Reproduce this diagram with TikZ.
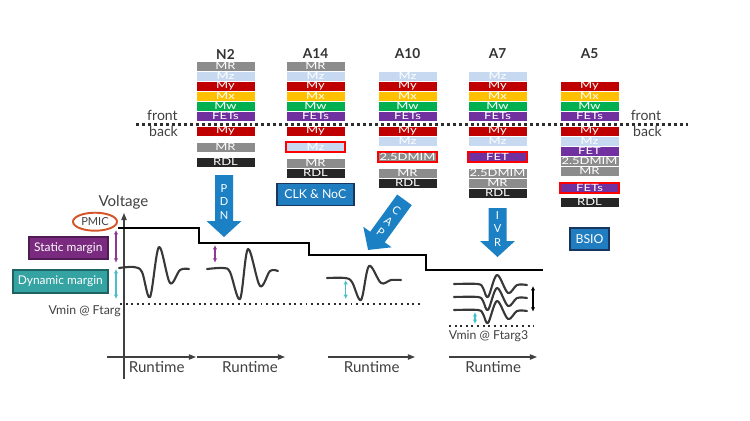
\documentclass[tikz,border=0pt]{standalone}
\usepackage{fontspec}
\setmainfont{Lato}
\newfontfamily\layerfamily[FakeStretch=1.3]{Lato}
\usetikzlibrary{positioning,shapes.geometric,arrows.meta}

\definecolor{mrgray}{HTML}{8C8C8C}
\definecolor{mzblue}{HTML}{C6D9F0}
\definecolor{myred}{HTML}{C00000}
\definecolor{mxorange}{HTML}{FFC000}
\definecolor{mwgreen}{HTML}{00B050}
\definecolor{fetpurple}{HTML}{7030A0}
\definecolor{rdlblack}{HTML}{262626}
\definecolor{arrowblue}{HTML}{1B81C4}
\definecolor{badgeblue}{HTML}{1F7DC0}
\definecolor{badgeborder}{HTML}{17375E}
\definecolor{txtgray}{HTML}{404040}
\definecolor{wavegray}{HTML}{383838}
\definecolor{pmicorange}{HTML}{D4552A}
\definecolor{staticfill}{HTML}{7A2A7F}
\definecolor{staticline}{HTML}{4E1B52}
\definecolor{dynfill}{HTML}{36A3A3}
\definecolor{dynline}{HTML}{1F6262}
\definecolor{staticarrow}{HTML}{8E3A94}
\definecolor{dynarrow}{HTML}{47C1C8}

\tikzset{
  layer/.style={minimum width=1.18cm, minimum height=0.2cm, inner sep=0pt, outer sep=0pt,
    text=white, font=\layerfamily\fontsize{5.7}{6}\selectfont, draw=white, line width=0.2pt},
  mr/.style={layer, fill=mrgray},
  mz/.style={layer, fill=mzblue},
  my/.style={layer, fill=myred},
  mx/.style={layer, fill=mxorange},
  mw/.style={layer, fill=mwgreen},
  fet/.style={layer, fill=fetpurple},
  rdl/.style={layer, fill=rdlblack},
  hot/.style={draw=red, line width=1.1pt},
  chipname/.style={text=txtgray!80!black, font=\bfseries\fontsize{7.8}{9}\selectfont},
  sidetext/.style={text=txtgray, font=\fontsize{8}{9}\selectfont, inner sep=0pt},
  badge/.style={fill=badgeblue, draw=badgeborder, line width=1.1pt, text=white,
    minimum height=0.44cm, inner sep=0pt, font=\fontsize{7}{8}\selectfont},
  arrowtext/.style={text=white, align=center, inner sep=0pt, font=\fontsize{6.3}{7.7}\selectfont},
  blockarrow/.pic={
    \fill[arrowblue] (-9,0) -- (9,0) -- (9,#1-16) -- (17.5,#1-16) -- (0,#1)
      -- (-17.5,#1-16) -- (-9,#1-16) -- cycle;
  },
  divider/.style={draw=txtgray!70!black, line width=1.7pt, dash pattern=on 1.7pt off 1.7pt},
  floor/.style={draw=txtgray!70!black, line width=1.1pt, dash pattern=on 1.1pt off 2.1pt},
  axis/.style={draw=txtgray, line width=0.7pt, -{Triangle[length=4pt,width=3pt]}},
  runtext/.style={text=txtgray, font=\fontsize{8.6}{10}\selectfont, inner sep=0pt},
  marginbox/.style={text=white, line width=1.1pt, minimum height=0.45cm, inner sep=0pt,
    font=\fontsize{6.8}{8}\selectfont},
  supply/.style={draw=black, line width=1.3pt},
  wave/.style={draw=wavegray, line width=1.2pt, line cap=round, line join=round},
  span/.style={line width=0.8pt, {Latex[length=2.5pt,width=2.5pt]}-{Latex[length=2.5pt,width=2.5pt]}},
  vmin/.style={text=txtgray, font=\fontsize{7}{8}\selectfont, inner sep=0pt}
}

\begin{document}
\begin{tikzpicture}[x=0.02cm,y=-0.02cm]
  \useasboundingbox (0,0) rectangle (750,420);

  % chip names
  \node[chipname] (n2) at (225.5,54) {N2};
  \node[chipname] (a14) at (315.5,54) {A14};
  \node[chipname] (a10) at (407.5,54) {A10};
  \node[chipname] (a7) at (497.5,54) {A7};
  \node[chipname] (a5) at (589.5,54) {A5};

  % N2
  \node[mr] (n2mr) at (225.5,66) {MR};
  \node[mz] (n2mz) [below=0pt of n2mr] {Mz};
  \node[my] (n2my) [below=0pt of n2mz] {My};
  \node[mx] (n2mx) [below=0pt of n2my] {Mx};
  \node[mw] (n2mw) [below=0pt of n2mx] {Mw};
  \node[fet] (n2fets) [below=0pt of n2mw] {FETs};
  \node[my] (n2bmy) at (225.5,131) {My};
  \node[mr] (n2bmr) [below=1.2mm of n2bmy] {MR};
  \node[rdl] (n2rdl) [below=1mm of n2bmr] {RDL};

  % A14
  \node[mr] (a14mr) at (315.5,66) {MR};
  \node[mz] (a14mz) [below=0pt of a14mr] {Mz};
  \node[my] (a14my) [below=0pt of a14mz] {My};
  \node[mx] (a14mx) [below=0pt of a14my] {Mx};
  \node[mw] (a14mw) [below=0pt of a14mx] {Mw};
  \node[fet] (a14fets) [below=0pt of a14mw] {FETs};
  \node[my] (a14bmy) at (315.5,131) {My};
  \node[mz,hot] (a14bmz) [below=1.2mm of a14bmy] {Mz};
  \node[mr] (a14bmr) [below=1.2mm of a14bmz] {MR};
  \node[rdl] (a14rdl) [below=0pt of a14bmr] {RDL};

  % A10
  \node[mz] (a10mz) at (407.5,76) {Mz};
  \node[my] (a10my) [below=0pt of a10mz] {My};
  \node[mx] (a10mx) [below=0pt of a10my] {Mx};
  \node[mw] (a10mw) [below=0pt of a10mx] {Mw};
  \node[fet] (a10fets) [below=0pt of a10mw] {FETs};
  \node[my] (a10bmy) at (407.5,131) {My};
  \node[mz] (a10bmz) [below=0pt of a10bmy] {Mz};
  \node[mr,hot] (a10mim) [below=1.2mm of a10bmz] {2.5DMIM};
  \node[mr] (a10bmr) [below=1.2mm of a10mim] {MR};
  \node[rdl] (a10rdl) [below=0pt of a10bmr] {RDL};

  % A7
  \node[mz] (a7mz) at (497.5,76) {Mz};
  \node[my] (a7my) [below=0pt of a7mz] {My};
  \node[mx] (a7mx) [below=0pt of a7my] {Mx};
  \node[mw] (a7mw) [below=0pt of a7mx] {Mw};
  \node[fet] (a7fets) [below=0pt of a7mw] {FETs};
  \node[my] (a7bmy) at (497.5,131) {My};
  \node[mz] (a7bmz) [below=0pt of a7bmy] {Mz};
  \node[fet,hot] (a7bfet) [below=1.2mm of a7bmz] {FET};
  \node[mr] (a7mim) [below=1.2mm of a7bfet] {2.5DMIM};
  \node[mr] (a7bmr) [below=0pt of a7mim] {MR};
  \node[rdl] (a7rdl) [below=0pt of a7bmr] {RDL};

  % A5
  \node[my] (a5my) at (589.5,86) {My};
  \node[mx] (a5mx) [below=0pt of a5my] {Mx};
  \node[mw] (a5mw) [below=0pt of a5mx] {Mw};
  \node[fet] (a5fets) [below=0pt of a5mw] {FETs};
  \node[my] (a5bmy) at (589.5,131) {My};
  \node[mz] (a5bmz) [below=0pt of a5bmy] {Mz};
  \node[fet] (a5bfet) [below=0pt of a5bmz] {FET};
  \node[mr] (a5mim) [below=0pt of a5bfet] {2.5DMIM};
  \node[mr] (a5bmr) [below=0pt of a5mim] {MR};
  \node[fet,hot] (a5bfets) [below=1.4mm of a5bmr] {FETs};
  \node[rdl] (a5rdl) [below=0.8mm of a5bfets] {RDL};

  % front / back
  \draw[divider] (136,124.5) -- (688,124.5);
  \node[sidetext] (frontl) at (162.5,115) {front};
  \node[sidetext] (backl) at (163.5,131.5) {back};
  \node[sidetext] (frontr) at (646,115) {front};
  \node[sidetext] (backr) at (647.5,131.5) {back};

  % boxes and block arrows
  \node[badge, minimum width=1.54cm] (clk) at (315.3,194.5) {CLK \& NoC};
  \node[badge, minimum width=0.78cm] (bsio) at (589.5,239) {BSIO};
  \pic at (224,175) {blockarrow=62};
  \node[arrowtext] (pdn) at (224,202) {P\\D\\N};
  \pic[rotate=-36] at (404.5,199.8) {blockarrow=62};
  \node[arrowtext, rotate=-36] (cap) at (388.6,221.6) {C\\A\\P};
  \pic at (497.5,208) {blockarrow=49};
  \node[arrowtext] (ivr) at (497.5,229) {I\\V\\R};

  % voltage chart
  \node[runtext] (volt) at (123.5,202) {Voltage};
  \draw[axis] (124,379) -- (124,213);
  \draw[axis] (107,357) -- (196,357);
  \draw[axis] (197,357) -- (285,357);
  \draw[axis] (328,357) -- (415,357);
  \draw[axis] (449,357) -- (537,357);
  \node[runtext] (rt1) at (156.7,367) {Runtime};
  \node[runtext] (rt2) at (250,367) {Runtime};
  \node[runtext] (rt3) at (371.7,367) {Runtime};
  \node[runtext] (rt4) at (493.3,367) {Runtime};

  \node[ellipse, draw=pmicorange, line width=1.1pt, minimum width=0.88cm, minimum height=0.36cm,
    inner sep=0pt, text=txtgray, font=\fontsize{6.3}{7}\selectfont] (pmic) at (95,221.7) {PMIC};
  \node[marginbox, fill=staticfill, draw=staticline, minimum width=1.57cm] (static) at (68.3,247.8) {Static margin};
  \node[marginbox, fill=dynfill, draw=dynline, minimum width=1.9cm] (dynamic) at (60.3,281.7) {Dynamic margin};

  \draw[supply] (118,227.7) -| (199,243.3) -| (309,255) -| (426,270) -- (543,270);

  \draw[floor] (120,304) -- (423,304);
  \draw[floor] (449,325.7) -- (534,325.7);
  \node[vmin, anchor=east] (vmin) at (121,310.7) {Vmin @ Ftarg};
  \node[vmin] (vmin3) at (488.5,336) {Vmin @ Ftarg3};

  \draw[span, staticarrow] (116,230) -- (116,262.7);
  \draw[span, dynarrow] (116,269) -- (116,299);
  \draw[span, staticarrow] (215,245) -- (215,262.7);
  \draw[span, dynarrow] (345.7,280) -- (345.7,299);
  \draw[span, dynarrow] (475,312) -- (475,324);
  \draw[span, black] (533,286) -- (533,311.7);

  % droops
  \draw[wave] plot[smooth, tension=0.55] coordinates {(119,268) (134,267) (142,272) (150,297) (159,247) (170,283) (180,270) (189,269)};
  \draw[wave] plot[smooth, tension=0.55] coordinates {(207,269) (223,268) (230,272) (240,299) (248,249) (260,286) (270,271) (278,271)};
  \draw[wave] plot[smooth, tension=0.55] coordinates {(327,278) (345,278) (352,282) (361,300) (369,266) (381,283) (391,280) (401,280)};
  \draw[wave] plot[smooth, tension=0.55] coordinates {(454,284) (478,284) (483,288) (488,297) (497,275) (508,293) (517,285) (527,285)};
  \draw[wave] plot[smooth, tension=0.55] coordinates {(454,297) (478,297) (483,301) (488,310) (497,288) (508,306) (517,298) (527,298)};
  \draw[wave] plot[smooth, tension=0.55] coordinates {(454,310) (478,310) (483,314) (488,323) (497,301) (508,319) (517,311) (527,311)};
\end{tikzpicture}
\end{document}
